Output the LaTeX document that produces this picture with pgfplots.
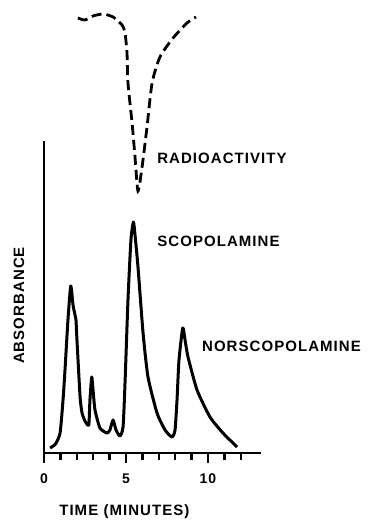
\documentclass[border=0pt]{standalone}
\usepackage{pgfplots}
\pgfplotsset{compat=1.18}
\usepackage{fontspec}
\setmainfont{Liberation Sans}
\newfontfamily\lab[LetterSpace=7]{Liberation Sans}
\newcommand{\labfont}{\lab\bfseries\fontsize{15}{16}\selectfont}
\begin{document}
\begin{tikzpicture}[x=1pt,y=1pt]
\useasboundingbox (0,0) rectangle (377,521);
\begin{axis}[
  at={(44pt,68pt)}, anchor=south west,
  scale only axis, width=216.5pt, height=312pt,
  xmin=0, xmax=13.2, ymin=0, ymax=312,
  axis x line=bottom, axis y line=left,
  axis line style={-, line width=2.5pt},
  xtick={0,5,10}, minor xtick={1,2,3,4,6,7,8,9,11,12}, ytick=\empty,
  tick align=outside, major tick length=10pt, minor tick length=7pt,
  every tick/.style={line width=2.3pt, black},
  /pgf/number format/assume math mode=true,
  xticklabel style={font=\lab\bfseries\fontsize{14}{15}\selectfont, yshift=-7pt},
  clip=false,
]
\addplot[line width=3pt, smooth, tension=0.35, line join=round] coordinates {
(0.37,5) (0.7,9) (0.98,20) (1.16,53) (1.28,83) (1.46,133) (1.63,167) (1.77,148)
(1.89,138) (1.95,133) (2.01,113) (2.20,56) (2.32,40) (2.5,32) (2.73,28)
(2.80,53) (2.91,76) (2.99,63) (3.11,43) (3.41,25) (3.84,20) (4.02,23)
(4.21,33) (4.39,23) (4.63,17) (4.82,26) (4.94,70) (5.12,153) (5.30,213)
(5.45,231) (5.55,218) (5.73,186) (6.04,120) (6.34,76) (6.89,40) (7.38,23)
(7.80,16) (7.99,23) (8.11,53) (8.23,93) (8.46,125) (8.6,113) (8.78,96)
(9.33,63) (10.12,36) (10.91,20) (11.77,6)
};
\addplot[line width=2.8pt, dash pattern=on 10pt off 5pt, smooth, tension=0.4] coordinates {
(2.07,435) (2.50,433) (2.99,437) (3.60,439) (4.21,436) (4.76,428) (4.94,420)
(5.06,400) (5.12,370) (5.37,330) (5.55,296) (5.73,262) (5.98,286) (6.28,326)
(6.59,370) (7.07,396) (7.87,415) (8.72,430) (9.27,436)
};
\node[anchor=west, font=\labfont, inner sep=0pt] at (axis cs:6.9,295) {RADIOACTIVITY};
\node[anchor=west, font=\labfont, inner sep=0pt] at (axis cs:6.9,212) {SCOPOLAMINE};
\node[anchor=west, font=\labfont, inner sep=0pt] at (axis cs:9.63,107) {NORSCOPOLAMINE};
\node[rotate=90, font=\labfont, inner sep=0pt] at ([xshift=-25pt]axis cs:0,147.5) {ABSORBANCE};
\node[font=\labfont, inner sep=0pt] at ([yshift=-59pt]axis cs:4.9,0) {TIME (MINUTES)};
\end{axis}
\end{tikzpicture}
\end{document}
